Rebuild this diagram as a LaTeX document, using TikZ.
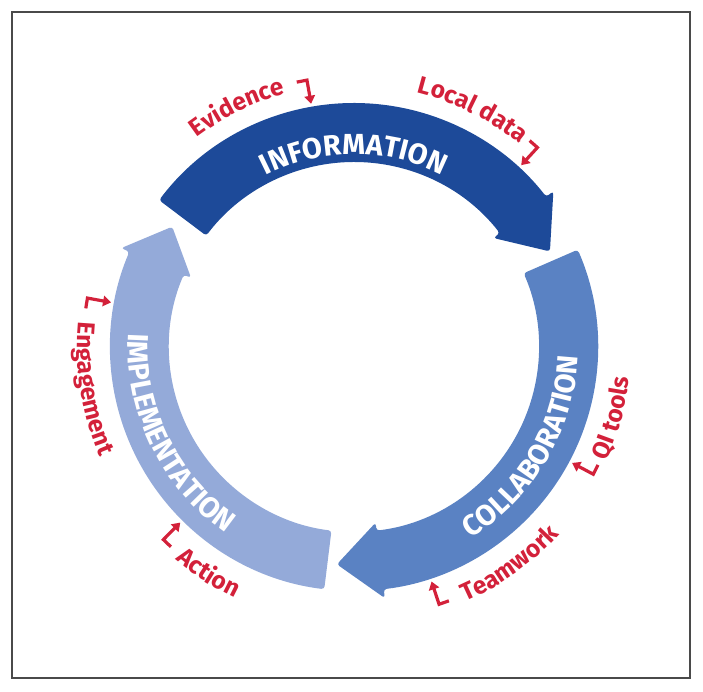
\documentclass[tikz,border=0pt]{standalone}
\usepackage{fontspec}
\setmainfont{Fira Sans}
\usetikzlibrary{arrows.meta,decorations.text}
\definecolor{infoblue}{HTML}{1D4A99}
\definecolor{collblue}{HTML}{5A82C3}
\definecolor{implblue}{HTML}{94AAD9}
\definecolor{labelred}{HTML}{D3213A}
\definecolor{framegray}{HTML}{4A4A4A}
\newcommand{\bandtextfont}{\fontsize{29}{29}\selectfont\bfseries}
\newcommand{\cuetextfont}{\fontsize{24.5}{24.5}\selectfont\bfseries}

\begin{document}
\begin{tikzpicture}[x=1pt,y=1pt,
    marker/.style={labelred,line width=3.2pt,-{Triangle[length=8pt,width=10.5pt]}},
    bandtext/.style={decorate,decoration={text along path,text align=center,text color=white,text={|\bandtextfont|#1}}},
    cuetext/.style={decorate,decoration={text along path,text align=center,text color=labelred,text={|\cuetextfont|#1}}}]
    \useasboundingbox (-354,-344) rectangle (349,347);
    % Frame
    \draw[framegray,line width=1.5pt] (-342,-331) rectangle (336,335);

    % Cycle arrows
    \foreach \a/\b/\c/\col in {143/38/26/infoblue,23.5/-83/-94.5/collblue,-97/-203/-213.5/implblue} {
        \fill[\col,rounded corners=3pt] (\a:244) arc[start angle=\a,end angle=\b,radius=244]
            -- (\b:253) -- (\c:218) -- (\b:177) -- (\b:185)
            arc[start angle=\b,end angle=\a,radius=185] -- cycle;
    }

    % Arrow names
    \path[bandtext=INFORMATION] (130:193) arc[start angle=130,end angle=50,radius=193];
    \path[bandtext=COLLABORATION] (-70.5:224) arc[start angle=-70.5,end angle=9.5,radius=224];
    \path[bandtext=IMPLEMENTATION] (166:226) arc[start angle=166,end angle=246,radius=226];

    % Cues
    \path[cuetext=Evidence] (146:262) arc[start angle=146,end angle=86,radius=262];
    \path[cuetext=Local data] (93.4:262) arc[start angle=93.4,end angle=33.4,radius=262];
    \path[cuetext=QI tools] (-45.3:277) arc[start angle=-45.3,end angle=14.7,radius=277];
    \path[cuetext=Teamwork] (-84.4:278) arc[start angle=-84.4,end angle=-24.4,radius=278];
    \path[cuetext=Action] (207.3:278) arc[start angle=207.3,end angle=267.3,radius=278];
    \path[cuetext=Engagement] (159:277) arc[start angle=159,end angle=219,radius=277];

    % Cue arrows
    \foreach \m/\t in {evid/100,local/47.4,qi/-28,team/-71.7,act/225.3,eng/169.6} {
        \coordinate (\m-s) at (\t+2.2:271);
        \coordinate (\m-k) at (\t:271);
        \coordinate (\m-t) at (\t:247);
        \draw[marker] (\m-s) -- (\m-k) -- (\m-t);
    }
\end{tikzpicture}
\end{document}
